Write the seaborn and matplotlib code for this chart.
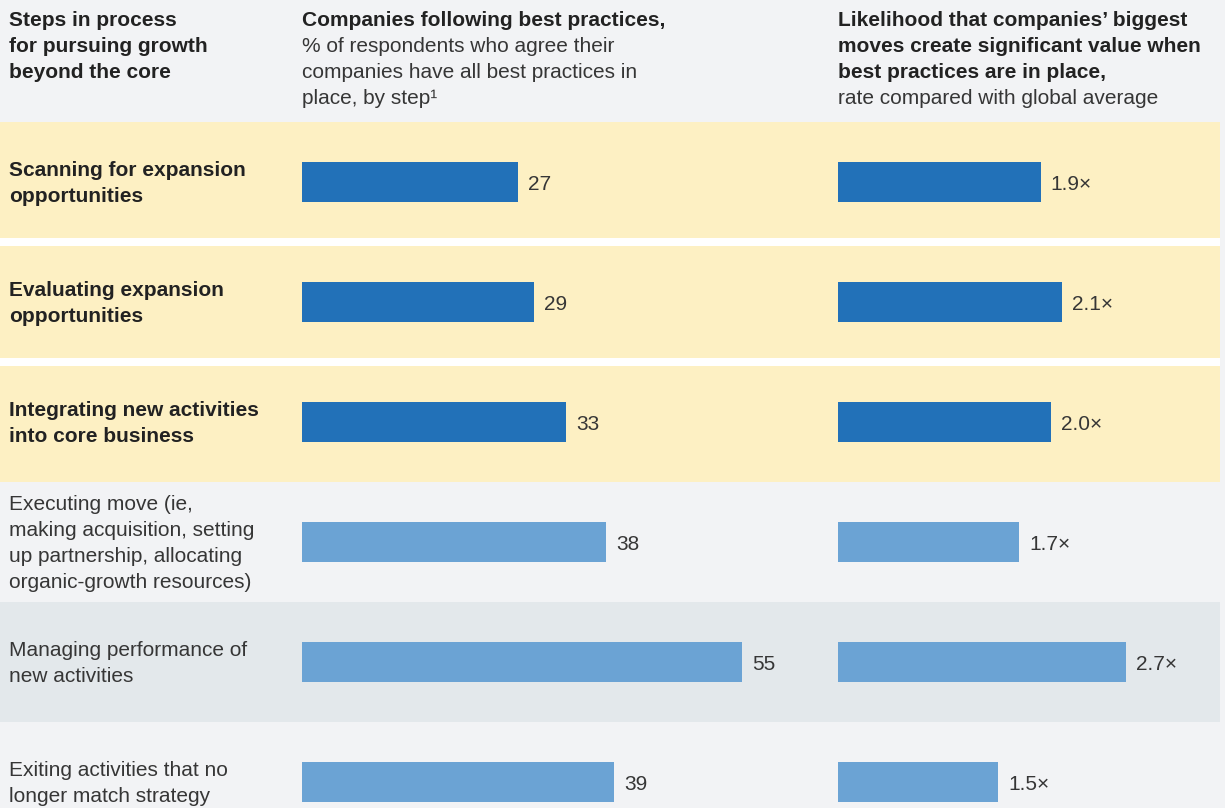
import matplotlib
matplotlib.use("Agg")
import matplotlib.pyplot as plt
import matplotlib.transforms as mtransforms
import pandas as pd
import seaborn as sns

# ---- data -------------------------------------------------------------
steps = [
    "Scanning for expansion\nopportunities",
    "Evaluating expansion\nopportunities",
    "Integrating new activities\ninto core business",
    "Executing move (ie,\nmaking acquisition, setting\nup partnership, allocating\norganic-growth resources)",
    "Managing performance of\nnew activities",
    "Exiting activities that no\nlonger match strategy",
]
best_practice_pct = [27, 29, 33, 38, 55, 39]
value_multiple = [1.9, 2.1, 2.0, 1.7, 2.7, 1.5]
highlighted = [True, True, True, False, False, False]

header_steps = ["Steps in process", "for pursuing growth", "beyond the core"]
header_pct_bold = ["Companies following best practices,"]
header_pct = ["% of respondents who agree their",
              "companies have all best practices in",
              "place, by step\u00b9"]
header_mult_bold = ["Likelihood that companies\u2019 biggest",
                    "moves create significant value when",
                    "best practices are in place,"]
header_mult = ["rate compared with global average"]

# ---- layout / style ---------------------------------------------------
W, H, DPI = 1225, 808, 100
ROW_PITCH = 120          # px between row centres
FIRST_ROW_CENTER = 182   # px from top
BAR_PX = 40
GAP_PX = 4               # half of the white gap between highlighted rows
LINE_PITCH = 26
FONT_SIZE = 15
LABEL_X = 9
COL1_X0, COL1_PX_PER_UNIT = 302, 8.0
COL2_X0, COL2_PX_PER_UNIT = 838, 160 / 1.5
PANEL_RIGHT = 1220

BG = "#f2f3f5"
YELLOW = "#fdf0c3"
SHADE = "#e3e8eb"
DARK_BLUE = "#2271b8"
LIGHT_BLUE = "#6ba3d4"
TEXT_BOLD = "#222222"
TEXT = "#363636"

sns.set_theme(style="white")
plt.rcParams["font.family"] = ["Liberation Sans", "DejaVu Sans"]

df = pd.DataFrame({
    "step": steps,
    "pct": best_practice_pct,
    "mult": value_multiple,
    "group": ["core" if h else "other" for h in highlighted],
})
palette = {"core": DARK_BLUE, "other": LIGHT_BLUE}

fig = plt.figure(figsize=(W / DPI, H / DPI), dpi=DPI, facecolor=BG)
ax_pct = fig.add_axes([0, 0, 1, 1])
ax_mult = fig.add_axes([0, 0, 1, 1])

y_top = -FIRST_ROW_CENTER / ROW_PITCH
y_bottom = (H - FIRST_ROW_CENTER) / ROW_PITCH

for ax, col, x0, ppu in [(ax_pct, "pct", COL1_X0, COL1_PX_PER_UNIT),
                         (ax_mult, "mult", COL2_X0, COL2_PX_PER_UNIT)]:
    sns.barplot(data=df, x=col, y="step", hue="group", order=steps,
                hue_order=["core", "other"], palette=palette, dodge=False,
                width=BAR_PX / ROW_PITCH, saturation=1, legend=False, ax=ax,
                linewidth=0, edgecolor="none", zorder=3)
    ax.set_xlim(-x0 / ppu, (W - x0) / ppu)
    ax.set_ylim(y_bottom, y_top)
    ax.set_facecolor("none")
    ax.set_axis_off()

# row bands
g = GAP_PX / ROW_PITCH
xmax = PANEL_RIGHT / W
plain_count = 0
for i, hl in enumerate(highlighted):
    top, bot = i - 0.5, i + 0.5
    if hl:
        if i > 0 and highlighted[i - 1]:
            top += g
        if i < len(highlighted) - 1 and highlighted[i + 1]:
            bot -= g
            ax_pct.axhspan(bot, i + 0.5 + g, xmin=0, xmax=xmax,
                           color="white", lw=0, zorder=0)
        ax_pct.axhspan(top, bot, xmin=0, xmax=xmax, color=YELLOW, lw=0, zorder=0)
    else:
        if plain_count % 2 == 1:
            ax_pct.axhspan(top, bot, xmin=0, xmax=xmax, color=SHADE, lw=0, zorder=0)
        plain_count += 1

# value labels
for ax, fmt in [(ax_pct, "{:.0f}"), (ax_mult, "{:.1f}\u00d7")]:
    for cont in ax.containers:
        texts = ax.bar_label(cont, fmt=fmt, padding=7.2, fontsize=FONT_SIZE,
                             color=TEXT)
        for t in texts:
            t.set_va("center_baseline")

# row labels, one text per line, centred on the row
row_trans = mtransforms.blended_transform_factory(fig.transFigure, ax_pct.transData)
for i, (label, hl) in enumerate(zip(steps, highlighted)):
    lines = label.split("\n")
    n = len(lines)
    for k, line in enumerate(lines):
        off = -(k - (n - 1) / 2) * LINE_PITCH
        tr = mtransforms.offset_copy(row_trans, fig=fig, x=0, y=off, units="dots")
        ax_pct.text(LABEL_X / W, i, line, transform=tr, ha="left",
                    va="center_baseline", fontsize=FONT_SIZE,
                    fontweight="bold" if hl else "normal",
                    color=TEXT_BOLD if hl else TEXT)

# column headers
def header(lines, x_px, first_line, bold):
    for k, line in enumerate(lines):
        base = 26 + (first_line + k) * LINE_PITCH
        fig.text(x_px / W, 1 - base / H, line, ha="left", va="baseline",
                 fontsize=FONT_SIZE, fontweight="bold" if bold else "normal",
                 color=TEXT_BOLD if bold else TEXT)

header(header_steps, LABEL_X, 0, True)
header(header_pct_bold, COL1_X0, 0, True)
header(header_pct, COL1_X0, 1, False)
header(header_mult_bold, COL2_X0, 0, True)
header(header_mult, COL2_X0, 3, False)

fig.savefig("out.png", dpi=DPI, facecolor=BG)
